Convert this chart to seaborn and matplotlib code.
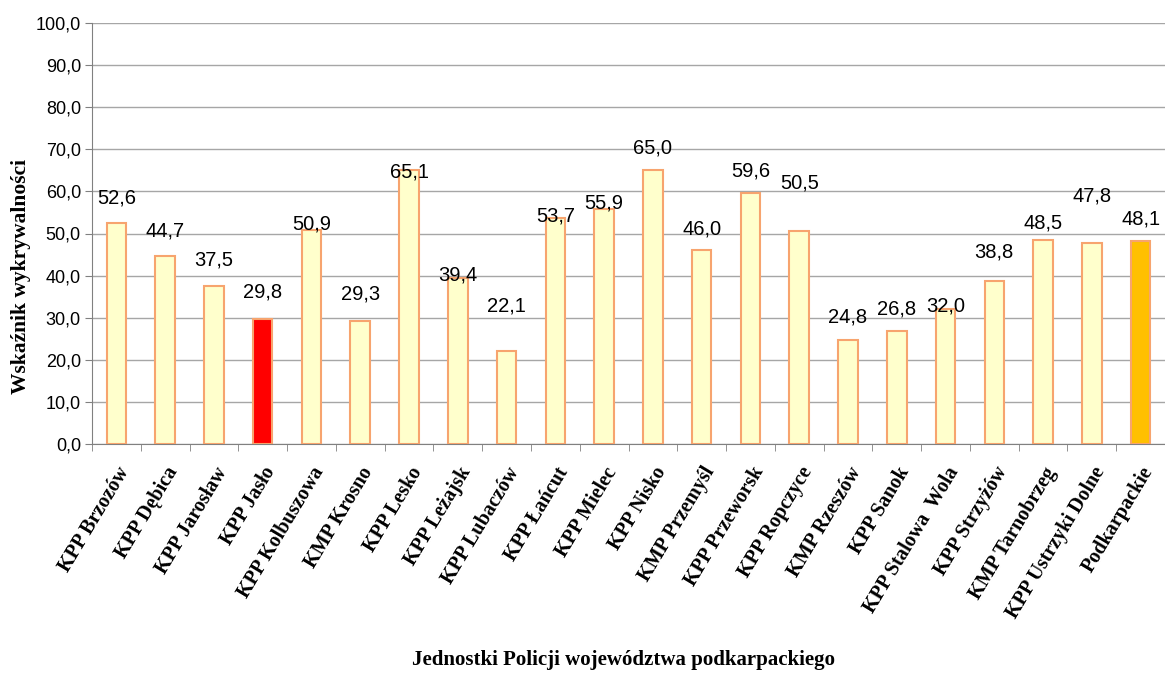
import matplotlib
matplotlib.use("Agg")
import matplotlib.pyplot as plt
import seaborn as sns
import pandas as pd
from matplotlib.ticker import FuncFormatter, MultipleLocator

sns.set_style("white")
plt.rcParams["text.color"] = "black"
plt.rcParams["xtick.color"] = "black"
plt.rcParams["ytick.color"] = "black"
plt.rcParams["axes.labelcolor"] = "black"

units = ["KPP Brzozów", "KPP Dębica", "KPP Jarosław", "KPP Jasło", "KPP Kolbuszowa",
         "KMP Krosno", "KPP Lesko", "KPP Leżajsk", "KPP Lubaczów", "KPP Łańcut",
         "KPP Mielec", "KPP Nisko", "KMP Przemyśl", "KPP Przeworsk", "KPP Ropczyce",
         "KMP Rzeszów", "KPP Sanok", "KPP Stalowa  Wola", "KPP Strzyżów",
         "KMP Tarnobrzeg", "KPP Ustrzyki Dolne", "Podkarpackie"]
rate = [52.6, 44.7, 37.5, 29.8, 50.9, 29.3, 65.1, 39.4, 22.1, 53.7, 55.9,
        65.0, 46.0, 59.6, 50.5, 24.8, 26.8, 32.0, 38.8, 48.5, 47.8, 48.1]
# where the value labels sit (the original labels were dragged around)
label_y = [58.4, 50.6, 43.7, 36.1, 52.3, 35.6, 64.6, 40.1, 32.8, 54.2, 57.2,
           70.3, 51.1, 64.8, 62.0, 30.2, 32.1, 32.8, 45.6, 52.5, 58.9, 53.4]

df = pd.DataFrame({"unit": units, "rate": rate})

fill = ["#FFFFCC"] * len(units)
fill[units.index("KPP Jasło")] = "#FF0000"
fill[units.index("Podkarpackie")] = "#FFC000"

fig = plt.figure(figsize=(11.65, 6.75), dpi=100)
ax = fig.add_axes([92 / 1165, 1 - 444 / 675, 1 - 92 / 1165, 421 / 675])

sns.barplot(data=df, x="unit", y="rate", hue="unit", palette=fill, saturation=1,
            legend=False, width=0.4, ax=ax, zorder=3)
for p in ax.patches:
    p.set_edgecolor("#F7A46E")
    p.set_linewidth(1.5)

ax.set_ylim(0, 100)
ax.set_xlim(-0.5, 21.42)
ax.yaxis.set_major_locator(MultipleLocator(10))
ax.yaxis.set_major_formatter(FuncFormatter(lambda v, _: f"{v:.1f}".replace(".", ",")))
ax.grid(axis="y", color="#A6A6A6", linewidth=1, zorder=0)

for i, (v, ly) in enumerate(zip(rate, label_y)):
    ax.text(i, ly, f"{v:.1f}".replace(".", ","), ha="center", va="center",
            fontsize=14.5, family="Liberation Sans", color="black", zorder=5)

for s in ["top", "right"]:
    ax.spines[s].set_visible(False)
for s in ["left", "bottom"]:
    ax.spines[s].set_color("#808080")

ax.set_xticks(range(len(units)))
ax.set_xticklabels(units, rotation=59, ha="right", rotation_mode="anchor",
                   fontsize=14.5, fontweight="bold", family="Liberation Serif")
# tick marks on category boundaries
ax.set_xticks([i + 0.5 for i in range(-1, len(units))], minor=True)
ax.tick_params(axis="x", which="major", length=0, pad=14)
ax.tick_params(axis="x", which="minor", length=5, direction="out", color="#808080", bottom=True)
ax.tick_params(axis="y", length=5, direction="out", color="#808080", left=True, pad=3)
for t in ax.get_yticklabels():
    t.set_family("Liberation Sans")
    t.set_fontsize(13)

ax.set_ylabel("Wskaźnik wykrywalności", fontsize=15.5, fontweight="bold",
              family="Liberation Serif")
ax.yaxis.set_label_coords(-0.057, 0.397)
ax.set_xlabel("")
fig.text(624 / 1165, 1 - 660 / 675, "Jednostki Policji województwa podkarpackiego",
         ha="center", va="center", fontsize=15, fontweight="bold", family="Liberation Serif")

plt.savefig("out.png", dpi=100)
